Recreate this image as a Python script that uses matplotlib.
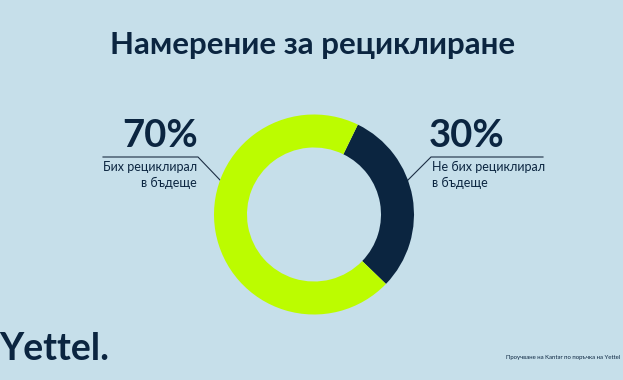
import matplotlib.pyplot as plt

# data
labels = ['Не бих рециклирал\nв бъдеще', 'Бих рециклирал\nв бъдеще']
values = [30, 70]
pct_labels = ['30%', '70%']
colors = ['#0b2540', '#bcfc00']

title = 'Намерение за рециклиране'
source = 'Проучване на Kantar по поръчка на Yettel'

bg = '#c6dfea'
navy = '#0b2540'
W, H = 623, 380

plt.rcParams['font.family'] = ['Lato', 'DejaVu Sans']

fig = plt.figure(figsize=(W / 100, H / 100), dpi=100, facecolor=bg)

# donut: centre (314, 214.5) px, radius 100 px
cx, cy, r = 314, 214.5, 100
ax = fig.add_axes([(cx - r) / W, (H - cy - r) / H, 2 * r / W, 2 * r / H])
ax.pie(values, colors=colors, startangle=64, counterclock=False,
       radius=1, wedgeprops=dict(width=0.33, linewidth=0))
ax.set_xlim(-1, 1)
ax.set_ylim(-1, 1)
ax.set_aspect('equal')
ax.axis('off')

# overlay in pixel coordinates for text and leader lines
ov = fig.add_axes([0, 0, 1, 1], zorder=-1)
ov.set_xlim(0, W)
ov.set_ylim(H, 0)
ov.axis('off')
ov.set_facecolor(bg)

ov.text(W / 2 + 1, 45, title, ha='center', va='center', fontsize=22.5,
        fontweight='bold', color=navy)

# left label (70%)
ov.text(160, 136, pct_labels[1], ha='center', va='center', fontsize=27.5,
        fontweight='bold', color=navy)
ov.plot([103, 198, 220], [157, 157, 180], color='#1c2e44', lw=0.8)
ov.text(197, 175, labels[1], ha='right', va='center', fontsize=9,
        color=navy, linespacing=1.4)

# right label (30%)
ov.text(467, 136, pct_labels[0], ha='center', va='center', fontsize=27.5,
        fontweight='bold', color=navy)
ov.plot([408, 431, 543], [180, 157, 157], color='#1c2e44', lw=0.8)
ov.text(432, 175, labels[0], ha='left', va='center', fontsize=9,
        color=navy, linespacing=1.4)

# logo and source
ov.text(-1, 349, 'Yettel.', ha='left', va='center', fontsize=27,
        fontweight='bold', color=navy)
ov.text(620, 358, source, ha='right', va='center', fontsize=4.3, color=navy)

fig.savefig('out.png', dpi=100, facecolor=bg)
